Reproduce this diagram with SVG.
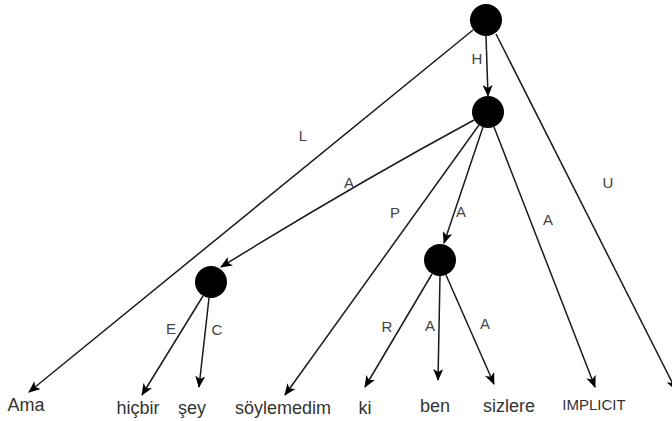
<svg xmlns="http://www.w3.org/2000/svg" width="672" height="421" viewBox="0 0 672 421">
<style>
.edge{fill:none;stroke:#1a1a1a;stroke-width:1.5;marker-end:url(#arr)}
.node{fill:#000}
.lbl{font-family:"Liberation Sans",Arial,sans-serif;font-size:15px;fill:#444;text-anchor:middle}
.word{font-family:"Liberation Sans",Arial,sans-serif;font-size:18px;fill:#333;text-anchor:middle}
</style>
<defs>
<marker id="arr" markerUnits="userSpaceOnUse" viewBox="0 0 12 10" refX="11" refY="5" markerWidth="12" markerHeight="10" orient="auto">
<path d="M0,0 L12,5 L0,10 L3,5 z" fill="#000"/>
</marker>
</defs>
<rect width="672" height="421" fill="#fff"/>
<g id="connectors">
<line class="edge" x1="486" y1="36" x2="488" y2="96"/>
<line class="edge" x1="473" y1="30" x2="29" y2="392"/>
<line class="edge" x1="496" y1="34" x2="676" y2="390"/>
<path class="edge" d="M474,120 Q352,186 221,267"/>
<line class="edge" x1="479" y1="125" x2="285" y2="395"/>
<line class="edge" x1="483" y1="127" x2="444" y2="243"/>
<line class="edge" x1="494" y1="127" x2="595" y2="387"/>
<line class="edge" x1="203" y1="296" x2="142" y2="395"/>
<line class="edge" x1="209" y1="298" x2="199" y2="387"/>
<line class="edge" x1="432" y1="274" x2="365" y2="387"/>
<line class="edge" x1="440" y1="276" x2="438" y2="380"/>
<line class="edge" x1="446" y1="275" x2="494" y2="384"/>
<text class="lbl" x="477" y="64">H</text>
<text class="lbl" x="303" y="141">L</text>
<text class="lbl" x="349" y="188">A</text>
<text class="lbl" x="395" y="218">P</text>
<text class="lbl" x="461" y="217">A</text>
<text class="lbl" x="548" y="225">A</text>
<text class="lbl" x="608" y="188">U</text>
<text class="lbl" x="171" y="334">E</text>
<text class="lbl" x="217" y="335">C</text>
<text class="lbl" x="387" y="332">R</text>
<text class="lbl" x="430" y="331">A</text>
<text class="lbl" x="485" y="329">A</text>
</g>
<g id="n-root"><circle class="node" cx="486" cy="20" r="16"/></g>
<g id="n-h"><circle class="node" cx="488" cy="112" r="16"/></g>
<g id="n-a1"><circle class="node" cx="211" cy="282" r="16"/></g>
<g id="n-a2"><circle class="node" cx="440" cy="260" r="16"/></g>
<g id="w-ama"><text class="word" x="26" y="411">Ama</text></g>
<g id="w-hicbir"><text class="word" x="138" y="414">hiçbir</text></g>
<g id="w-sey"><text class="word" x="192" y="414">şey</text></g>
<g id="w-soylemedim"><text class="word" x="283" y="414">söylemedim</text></g>
<g id="w-ki"><text class="word" x="365" y="414">ki</text></g>
<g id="w-ben"><text class="word" x="435" y="412">ben</text></g>
<g id="w-sizlere"><text class="word" x="509" y="412">sizlere</text></g>
<g id="w-implicit"><text class="word" x="594" y="410" style="font-size:15px">IMPLICIT</text></g>
</svg>
